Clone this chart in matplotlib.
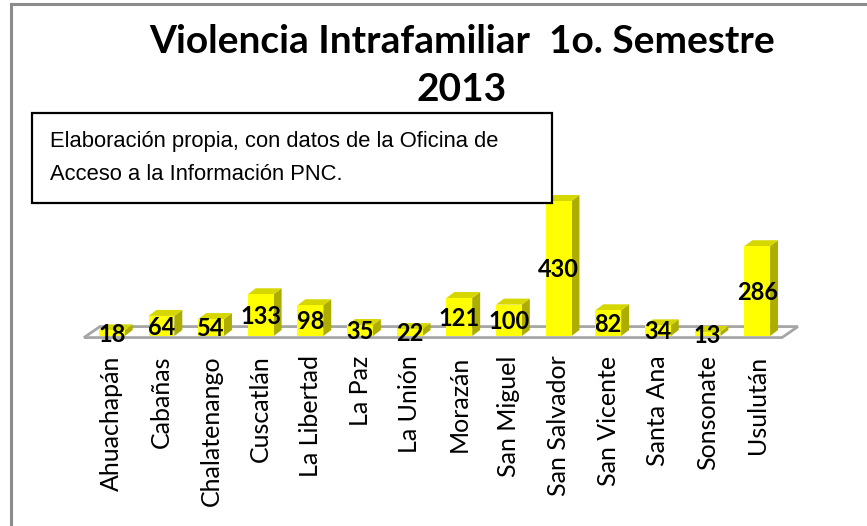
import matplotlib
matplotlib.use("Agg")
import matplotlib.pyplot as plt
from matplotlib.patches import Polygon, Rectangle
from matplotlib.lines import Line2D

# datos
departamentos = ["Ahuachapán", "Cabañas", "Chalatenango", "Cuscatlán", "La Libertad",
                 "La Paz", "La Unión", "Morazán", "San Miguel", "San Salvador",
                 "San Vicente", "Santa Ana", "Sonsonate", "Usulután"]
casos = [18, 64, 54, 133, 98, 35, 22, 121, 100, 430, 82, 34, 13, 286]

titulo = "Violencia Intrafamiliar  1o. Semestre\n2013"
nota = "Elaboración propia, con datos de la Oficina de\nAcceso a la Información PNC."

W, H = 867, 526
fig = plt.figure(figsize=(W / 100, H / 100), dpi=100)

def fx(px):
    return px / W

def fy(py):
    return (H - py) / H

# marco gris (solo arriba e izquierda, la imagen esta recortada)
fig.add_artist(Line2D([fx(10.5), 1], [fy(3.5), fy(3.5)], color="#8c8c8c", lw=2.2))
fig.add_artist(Line2D([fx(10.5), fx(10.5)], [fy(3.5), 0], color="#8c8c8c", lw=2.2))

# titulo
fig.text(fx(462), fy(24), titulo, ha="center", va="top", fontsize=28,
         fontweight="bold", family=["Lato", "DejaVu Sans"], linespacing=1.45)

# cuadro de nota
fig.add_artist(Rectangle((fx(32), fy(203)), fx(520), 90 / H, transform=fig.transFigure,
                         fill=True, facecolor="white", edgecolor="black", lw=1.6))
fig.text(fx(50), fy(158), nota, ha="left", va="center", fontsize=15.8,
         family=["Liberation Sans", "DejaVu Sans"], linespacing=1.7)

# ejes
ax = fig.add_axes([fx(84), fy(336), fx(698), 157 / H])
ax.set_xlim(-0.56, 13.5)
ax.set_ylim(0, 500)
for s in ax.spines.values():
    s.set_visible(False)
ax.set_yticks([])

ancho = 0.52
dx, dy = 0.16, 19      # profundidad de las barras
fdx, fdy = 0.32, 35    # profundidad del piso

# piso
piso = Polygon([(-0.56, -5), (13.5, -5), (13.5 + fdx, -5 + fdy), (-0.56 + fdx, -5 + fdy)],
               closed=True, facecolor="white", edgecolor="#a6a6a6", lw=2, clip_on=False, zorder=1)
ax.add_patch(piso)

for i, v in enumerate(casos):
    x0, x1 = i - ancho / 2, i + ancho / 2
    frente = Polygon([(x0, 0), (x1, 0), (x1, v), (x0, v)], closed=True,
                     facecolor="#ffff00", edgecolor="none", clip_on=False, zorder=3)
    arriba = Polygon([(x0, v), (x1, v), (x1 + dx, v + dy), (x0 + dx, v + dy)], closed=True,
                     facecolor="#d6d600", edgecolor="none", clip_on=False, zorder=2)
    lado = Polygon([(x1, 0), (x1 + dx, dy), (x1 + dx, v + dy), (x1, v)], closed=True,
                   facecolor="#adad00", edgecolor="none", clip_on=False, zorder=2)
    ax.add_patch(lado)
    ax.add_patch(arriba)
    ax.add_patch(frente)
    ax.text(i, v / 2 - 4, str(v), ha="center", va="center", fontsize=17, fontweight="bold",
            family=["Lato", "DejaVu Sans"], zorder=5)

ax.set_xticks(range(len(departamentos)))
ax.set_xticklabels(departamentos, rotation=90, fontsize=18, family=["Lato", "DejaVu Sans"])
ax.tick_params(axis="x", length=0, pad=14)

fig.savefig("out.png", dpi=100)
